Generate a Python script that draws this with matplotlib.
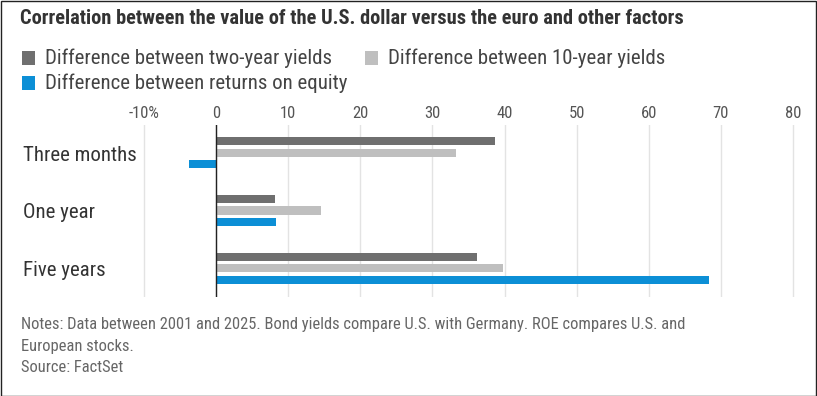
import matplotlib
matplotlib.use("Agg")
import matplotlib.pyplot as plt
from matplotlib.patches import Rectangle
import matplotlib.transforms as mtransforms
from matplotlib import font_manager

names = {f.name for f in font_manager.fontManager.ttflist}
cond = [n for n in ["Roboto Condensed", "Liberation Sans Narrow", "Open Sans Condensed", "Noto Sans"] if n in names]
FAM = cond + ["DejaVu Sans"]
plt.rcParams['font.family'] = FAM

categories = ["Three months", "One year", "Five years"]
series_names = ["Difference between two-year yields",
                "Difference between 10-year yields",
                "Difference between returns on equity"]
two_year = [38.7, 8.2, 36.2]
ten_year = [33.3, 14.6, 39.8]
roe = [-3.7, 8.3, 68.4]
xticks = [-10, 0, 10, 20, 30, 40, 50, 60, 70, 80]
xticklabels = ["-10%", "0", "10", "20", "30", "40", "50", "60", "70", "80"]
colors = ["#6f6f6f", "#bfbfbf", "#0c8fd6"]

W, H = 817, 396
fig = plt.figure(figsize=(W/100, H/100), dpi=100)
left_px, right_px, top_px, bot_px = 140.4, 796.6, 125, 297
ax = fig.add_axes([left_px/W, 1-bot_px/H, (right_px-left_px)/W, (bot_px-top_px)/H])

offs = [-0.198, 0.0, 0.198]
h = 0.14
for vals, off, c in zip([two_year, ten_year, roe], offs, colors):
    ax.barh([i + off for i in range(len(categories))], vals, height=h, color=c, zorder=3)

ax.set_xlim(-10.5, 80.5)
ax.set_ylim(2.5, -0.483)
ax.set_xticks(xticks)
ax.set_xticklabels(xticklabels)
ax.xaxis.tick_top()
ax.tick_params(axis='x', length=0, pad=3, labelsize=12, labelcolor="#555555")
ax.set_yticks([])
for s in ax.spines.values():
    s.set_visible(False)
ax.grid(axis='x', color="#e3e3e3", linewidth=1, zorder=0)
ax.axvline(0, color="#222222", linewidth=1, zorder=4)

trans = mtransforms.blended_transform_factory(fig.transFigure, ax.transData)
for i, cat in enumerate(categories):
    ax.text(23/W, i + 0.04, cat, transform=trans, ha='left', va='center', fontsize=15, color="#333333")

fig.text(20/W, 1-18/H, "Correlation between the value of the U.S. dollar versus the euro and other factors",
         fontsize=14.7, fontweight='bold', color="#333333", va='center', ha='left')

leg_items = [(22, 58), (365, 58), (22, 83)]
for (x, y), name, c in zip(leg_items, series_names, colors):
    fig.patches.append(Rectangle((x/W, 1-(y+6.5)/H), 13/W, 13/H, transform=fig.transFigure,
                                 facecolor=c, edgecolor='none'))
    fig.text((x+23)/W, 1-y/H, name, fontsize=15, color="#444444", va='center', ha='left')

notes = ["Notes: Data between 2001 and 2025. Bond yields compare U.S. with Germany. ROE compares U.S. and",
         "European stocks.",
         "Source: FactSet"]
for t, y in zip(notes, [324, 346, 368]):
    fig.text(21/W, 1-y/H, t, fontsize=11.9, color="#666666", va='center', ha='left')

fig.patches.append(Rectangle((0.5/W, 0.5/H), (W-1.5)/W, (H-1.5)/H, transform=fig.transFigure,
                             facecolor='none', edgecolor="#222222", linewidth=1))

fig.savefig("out.png", dpi=100)
